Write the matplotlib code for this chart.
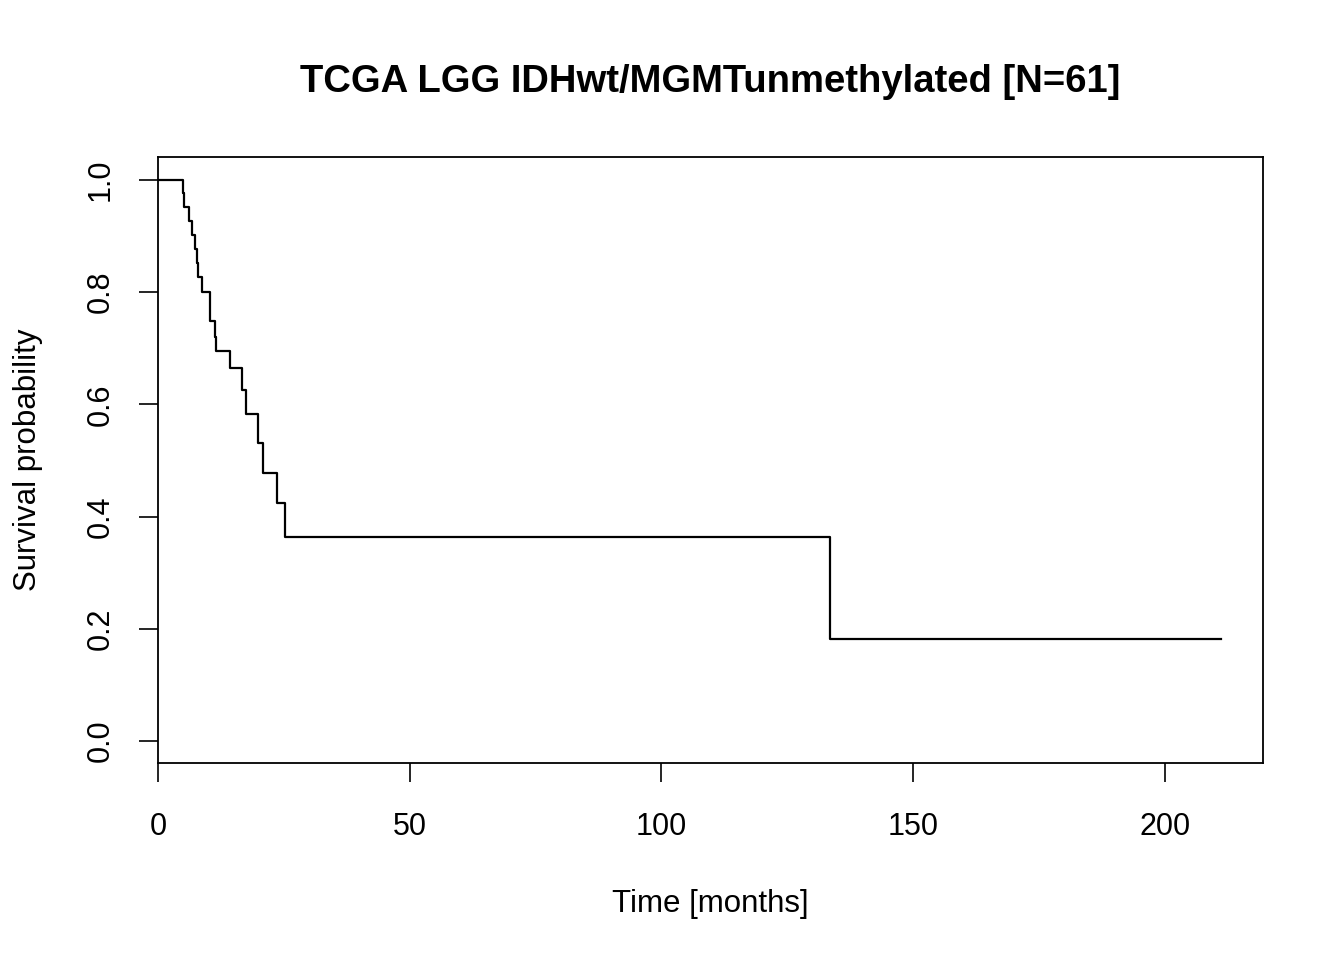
import numpy as np
import matplotlib
matplotlib.use('Agg')
import matplotlib.pyplot as plt

plt.rcParams['font.family'] = ['Liberation Sans', 'DejaVu Sans']

# Kaplan-Meier step points
times = [0, 4.9, 5.2, 6.2, 6.7, 7.35, 7.8, 8.0, 8.7, 10.3, 11.25, 11.5,
         14.4, 16.7, 17.5, 19.8, 20.9, 23.6, 25.3, 133.5, 211.1]
surv = [1.0, 0.976, 0.952, 0.927, 0.902, 0.877, 0.852, 0.828, 0.801, 0.748,
        0.72, 0.695, 0.665, 0.626, 0.583, 0.531, 0.477, 0.425, 0.364, 0.182,
        0.182]
xticks = [0, 50, 100, 150, 200]
yticks = [0.0, 0.2, 0.4, 0.6, 0.8, 1.0]

fig = plt.figure(figsize=(13.44, 9.6), dpi=100)
ax = fig.add_axes([158/1344, 1-763/960, (1263-158)/1344, (763-157)/960])

ax.step(times, surv, where='post', color='black', lw=1.6)

ax.set_xlim(0, 219.5)
ax.set_ylim(-0.039, 1.041)
ax.set_xticks(xticks)
ax.set_xticklabels([str(t) for t in xticks])
ax.set_yticks(yticks)
ax.set_yticklabels(['%.1f' % v for v in yticks], rotation=90, va='center')
ax.tick_params(direction='out', length=14, width=1.2, labelsize=22)
ax.tick_params(axis='x', pad=21)
ax.tick_params(axis='y', pad=16.5)
for sp in ax.spines.values():
    sp.set_linewidth(1.3)

ax.set_xlabel('Time [months]', fontsize=22.5, labelpad=34)
ax.set_ylabel('Survival probability', fontsize=22.5, labelpad=31)
fig.text(0.5 + 0.5*(0.1176 + 0.9397 - 1), 1-82/960,
         'TCGA LGG IDHwt/MGMTunmethylated [N=61]',
         ha='center', va='center', fontsize=27.5, fontweight='bold')

fig.savefig('out.png', dpi=100)
